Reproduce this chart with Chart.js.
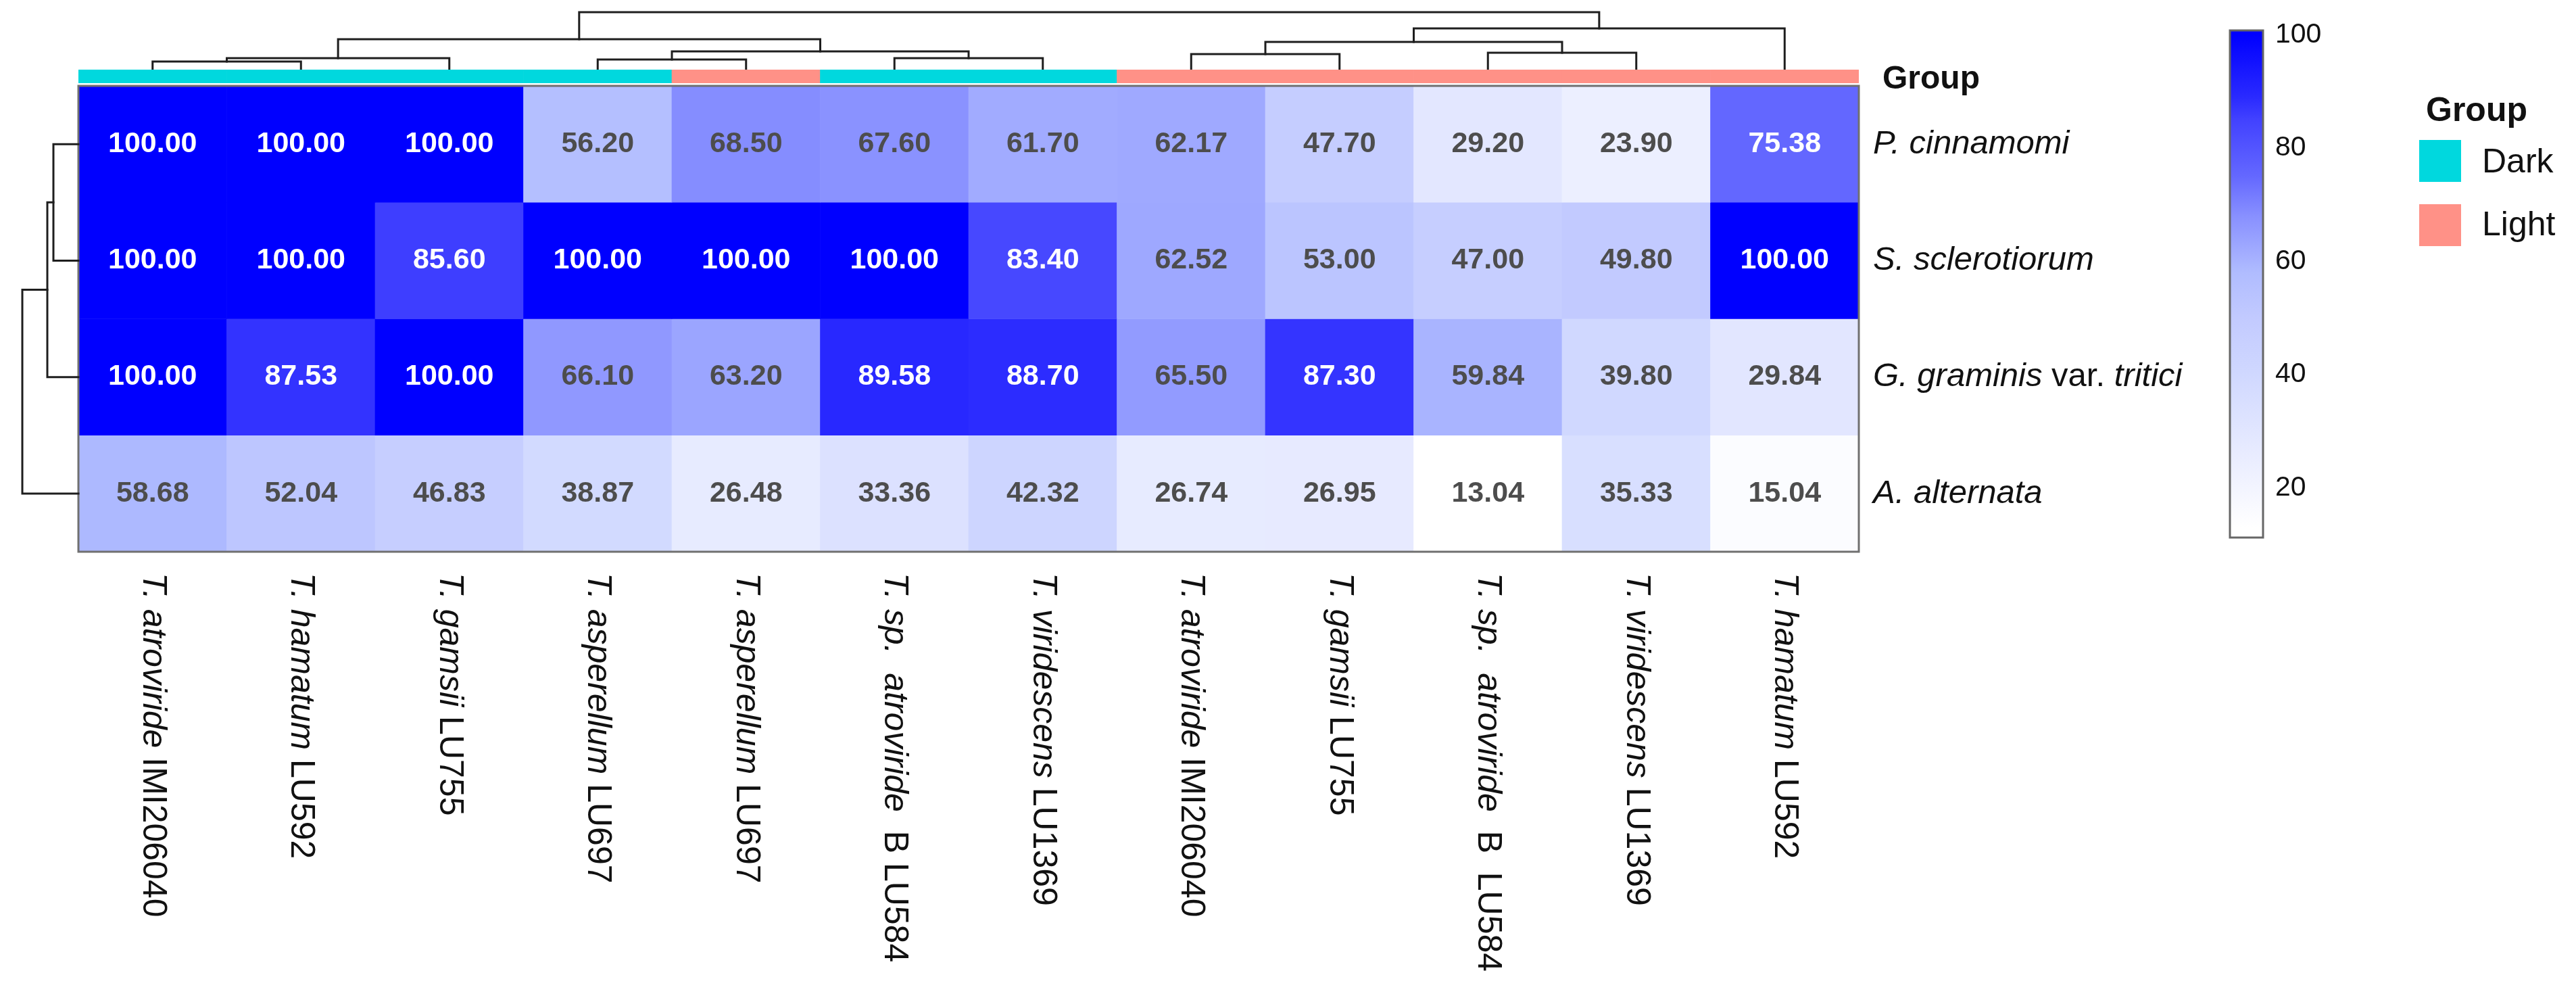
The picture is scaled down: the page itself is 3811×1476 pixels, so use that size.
<!DOCTYPE html>
<html>
<head>
<meta charset="utf-8">
<script src="https://cdn.jsdelivr.net/npm/chart.js@4.4.0/dist/chart.umd.min.js"></script>
<style>
  body { margin: 0; background: #ffffff; overflow: hidden; }
  #page { position: relative; width: 3811px; height: 1476px; font-family: 'Liberation Sans', Arial, sans-serif; color: #111; }
  canvas { position: absolute; }
  .txt { position: absolute; white-space: nowrap; }
  .key { position: absolute; width: 62px; height: 62px; }
</style>
</head>
<body>
<div id="page">
  <canvas id="heatCanvas" width="3811" height="1476" style="left:0;top:0"></canvas>
  <canvas id="topTreeCanvas" width="2900" height="140" style="left:0;top:0"></canvas>
  <canvas id="sideTreeCanvas" width="140" height="760" style="left:0;top:100px"></canvas>
  <canvas id="groupCanvas" width="2634" height="20" style="left:116px;top:103px"></canvas>
  <canvas id="scaleCanvas" width="300" height="850" style="left:3250px;top:0"></canvas>

  <div class="txt" style="left:2785px;top:91px;font-weight:bold;font-size:48px;line-height:48px">Group</div>
  <div class="txt" style="left:3589px;top:137px;font-weight:bold;font-size:50px;line-height:50px">Group</div>
  <div class="key" id="keyDark" style="left:3579px;top:207px"></div>
  <div class="txt" style="left:3672px;top:213px;font-size:50px;line-height:50px">Dark</div>
  <div class="key" id="keyLight" style="left:3579px;top:302px"></div>
  <div class="txt" style="left:3672px;top:306px;font-size:50px;line-height:50px">Light</div>
</div>
<script>
// columns (already in dendrogram order)
const colSpecies = ["T. atroviride", "T. hamatum", "T. gamsii", "T. asperellum", "T. asperellum", "T. sp.  atroviride",
  "T. viridescens", "T. atroviride", "T. gamsii", "T. sp.  atroviride", "T. viridescens", "T. hamatum"];
const colStrains = ["IMI206040", "LU592", "LU755", "LU697", "LU697", " B LU584",
  "LU1369", "IMI206040", "LU755", " B  LU584", "LU1369", "LU592"];
const colGroups = ["Dark", "Dark", "Dark", "Dark", "Light", "Dark", "Dark", "Light", "Light", "Light", "Light", "Light"];

const rowLabels = ["P. cinnamomi", "S. sclerotiorum", "G. graminis var. tritici", "A. alternata"];

const pCinnamomi = [100.00, 100.00, 100.00, 56.20, 68.50, 67.60, 61.70, 62.17, 47.70, 29.20, 23.90, 75.38];
const sSclerotiorum = [100.00, 100.00, 85.60, 100.00, 100.00, 100.00, 83.40, 62.52, 53.00, 47.00, 49.80, 100.00];
const gGraminis = [100.00, 87.53, 100.00, 66.10, 63.20, 89.58, 88.70, 65.50, 87.30, 59.84, 39.80, 29.84];
const aAlternata = [58.68, 52.04, 46.83, 38.87, 26.48, 33.36, 42.32, 26.74, 26.95, 13.04, 35.33, 15.04];
const rowValues = [pCinnamomi, sSclerotiorum, gGraminis, aAlternata];

// hclust style merges: negative = leaf (1-based), positive = earlier merge
const colMerges = [[-1, -2, 12], [1, -3, 17], [-4, -5, 15], [-6, -7, 17], [3, 4, 27], [2, 5, 45],
  [-8, -9, 23], [-10, -11, 25], [7, 8, 41], [9, -12, 61], [6, 10, 85]];
const rowMerges = [[-1, -2, 37], [1, -3, 46], [2, -4, 83]];

const paletteValues = [13, 25, 40, 50, 58, 62, 68, 75, 85, 89, 100];
const paletteColors = ["#ffffff", "#eaedff", "#d0d8ff", "#c2caff", "#b0bcff", "#a0aaff", "#8890ff", "#6468ff", "#4242ff", "#2a2aff", "#0000ff"];
const legendMin = 11.2;
const legendMax = 100.8;
const legendTicks = [20, 40, 60, 80, 100];

const groupColors = { Dark: "#00d8de", Light: "#ff9187" };

const fontFamily = "'Liberation Sans', Arial, sans-serif";
Chart.defaults.font.family = fontFamily;

document.getElementById("keyDark").style.background = groupColors.Dark;
document.getElementById("keyLight").style.background = groupColors.Light;

const hexToRgb = (hex) => [1, 3, 5].map((i) => parseInt(hex.substr(i, 2), 16));

const colorFor = (v) => {
    if (v <= paletteValues[0]) return paletteColors[0];
    for (let i = 1; i < paletteValues.length; i++) {
        if (v <= paletteValues[i]) {
            let t = (v - paletteValues[i - 1]) / (paletteValues[i] - paletteValues[i - 1]);
            let a = hexToRgb(paletteColors[i - 1]);
            let b = hexToRgb(paletteColors[i]);
            let c = a.map((x, k) => Math.round(x + (b[k] - x) * t));
            return `rgb(${c[0]},${c[1]},${c[2]})`;
        }
    }
    return paletteColors[paletteColors.length - 1];
};

const baseOptions = (padding) => ({
    responsive: false,
    animation: false,
    devicePixelRatio: 1,
    events: [],
    layout: { padding: padding },
    plugins: { legend: { display: false }, tooltip: { enabled: false } }
});

// ---------- heatmap ----------
const heatLabels = {
    id: "heatLabels",
    afterDatasetsDraw(chart) {
        const { ctx, chartArea, scales: { x, y } } = chart;
        ctx.save();

        // cell values
        ctx.textAlign = "center";
        ctx.textBaseline = "middle";
        ctx.font = `bold 43px ${fontFamily}`;
        rowValues.forEach((vals, r) => {
            vals.forEach((v, c) => {
                ctx.fillStyle = v >= 70 ? "#ffffff" : "#4d4d4d";
                ctx.fillText(v.toFixed(2), x.getPixelForValue(c), y.getPixelForValue(r + 0.5));
            });
        });

        // frame
        ctx.strokeStyle = "#707070";
        ctx.lineWidth = 3;
        ctx.strokeRect(chartArea.left, chartArea.top, chartArea.right - chartArea.left, chartArea.bottom - chartArea.top);

        // row labels, italic except "var."
        ctx.fillStyle = "#111";
        ctx.textAlign = "left";
        rowLabels.forEach((label, r) => {
            let px = chartArea.right + 21;
            let py = y.getPixelForValue(r + 0.5);
            label.split(/(var\.)/).forEach((part) => {
                ctx.font = (part == "var." ? "" : "italic ") + `49px ${fontFamily}`;
                ctx.fillText(part, px, py);
                px += ctx.measureText(part).width;
            });
        });

        // column labels, rotated to read downwards
        colSpecies.forEach((species, c) => {
            ctx.save();
            ctx.translate(x.getPixelForValue(c), chartArea.bottom + 31);
            ctx.rotate(Math.PI / 2);
            ctx.font = `italic 50px ${fontFamily}`;
            ctx.fillText(species, 0, 0);
            let w = ctx.measureText(species + " ").width;
            ctx.font = `50px ${fontFamily}`;
            ctx.fillText(colStrains[c], w, 0);
            ctx.restore();
        });
        ctx.restore();
    }
};

let heatOptions = baseOptions({ left: 116, right: 3811 - 2750, top: 127, bottom: 1476 - 816 });
heatOptions.scales = {
    x: { display: false },
    y: { type: "linear", min: 0, max: rowValues.length, reverse: true, display: false }
};

new Chart(document.getElementById("heatCanvas"), {
    type: "bar",
    data: {
        labels: colSpecies.map((s, i) => s + " " + colStrains[i]),
        datasets: rowValues.map((vals, r) => ({
            label: rowLabels[r],
            data: vals.map(() => [r, r + 1]),
            backgroundColor: vals.map(colorFor),
            grouped: false,
            barPercentage: 1,
            categoryPercentage: 1,
            borderWidth: 0
        }))
    },
    options: heatOptions,
    plugins: [heatLabels]
});

// ---------- group annotation bar ----------
let groupOptions = baseOptions(0);
groupOptions.scales = { x: { display: false }, y: { min: 0, max: 1, display: false } };

new Chart(document.getElementById("groupCanvas"), {
    type: "bar",
    data: {
        labels: colGroups.map((g, i) => i),
        datasets: [{
            data: colGroups.map(() => [0, 1]),
            backgroundColor: colGroups.map((g) => groupColors[g]),
            barPercentage: 1,
            categoryPercentage: 1,
            borderWidth: 0
        }]
    },
    options: groupOptions
});

// ---------- dendrograms ----------
const buildBranches = (merges) => {
    let pos = [];
    let hgt = [];
    const where = (k) => (k < 0 ? [-k - 0.5, 0] : [pos[k - 1], hgt[k - 1]]);
    return merges.map(([a, b, h], i) => {
        const [pa, ha] = where(a);
        const [pb, hb] = where(b);
        pos[i] = (pa + pb) / 2;
        hgt[i] = h;
        return [[pa, ha], [pa, h], [pb, h], [pb, hb]];
    });
};

const treeDataset = (points) => ({
    data: points,
    showLine: true,
    pointRadius: 0,
    borderWidth: 3,
    borderColor: "#1e1e1e",
    borderJoinStyle: "miter",
    borderCapStyle: "square",
    clip: false
});

let topOptions = baseOptions({ left: 116, right: 2900 - 2750, top: 18, bottom: 140 - 103 });
topOptions.scales = {
    x: { type: "linear", min: 0, max: colGroups.length, display: false },
    y: { type: "linear", min: 0, max: Math.max(...colMerges.map((m) => m[2])), display: false }
};
new Chart(document.getElementById("topTreeCanvas"), {
    type: "scatter",
    data: { datasets: buildBranches(colMerges).map((b) => treeDataset(b.map(([p, h]) => ({ x: p, y: h })))) },
    options: topOptions
});

let sideOptions = baseOptions({ left: 33, right: 140 - 116, top: 27, bottom: 760 - 716 });
sideOptions.scales = {
    x: { type: "linear", min: 0, max: Math.max(...rowMerges.map((m) => m[2])), reverse: true, display: false },
    y: { type: "linear", min: 0, max: rowLabels.length, reverse: true, display: false }
};
new Chart(document.getElementById("sideTreeCanvas"), {
    type: "scatter",
    data: { datasets: buildBranches(rowMerges).map((b) => treeDataset(b.map(([p, h]) => ({ x: h, y: p })))) },
    options: sideOptions
});

// ---------- colour key ----------
const scaleGradient = (chart) => {
    const { chartArea, scales } = chart;
    if (!chartArea) return paletteColors[0];
    let y0 = scales.y.getPixelForValue(legendMin);
    let y1 = scales.y.getPixelForValue(legendMax);
    let g = chart.ctx.createLinearGradient(0, y0, 0, y1);
    g.addColorStop(0, colorFor(legendMin));
    paletteValues.forEach((v) => {
        let t = (v - legendMin) / (legendMax - legendMin);
        if (t > 0 && t < 1) g.addColorStop(t, colorFor(v));
    });
    g.addColorStop(1, colorFor(legendMax));
    return g;
};

const scaleFrame = {
    id: "scaleFrame",
    afterDatasetsDraw(chart) {
        const { ctx, chartArea } = chart;
        ctx.save();
        ctx.strokeStyle = "#666";
        ctx.lineWidth = 3;
        ctx.strokeRect(chartArea.left, chartArea.top, chartArea.right - chartArea.left, chartArea.bottom - chartArea.top);
        ctx.restore();
    }
};

let scaleOptions = baseOptions({ left: 49, right: 102, top: 45, bottom: 850 - 795 });
scaleOptions.scales = {
    x: { display: false },
    y: {
        position: "right",
        min: legendMin,
        max: legendMax,
        grid: { display: false, drawTicks: false },
        border: { display: false },
        afterBuildTicks: (s) => { s.ticks = legendTicks.map((v) => ({ value: v })); },
        afterFit: (s) => { s.width = 100; },
        ticks: { padding: 18, color: "#111", font: { size: 41 } }
    }
};
new Chart(document.getElementById("scaleCanvas"), {
    type: "bar",
    data: {
        labels: ["value"],
        datasets: [{
            data: [[legendMin, legendMax]],
            backgroundColor: (c) => scaleGradient(c.chart),
            barPercentage: 1,
            categoryPercentage: 1,
            borderWidth: 0
        }]
    },
    options: scaleOptions,
    plugins: [scaleFrame]
});
</script>
</body>
</html>
